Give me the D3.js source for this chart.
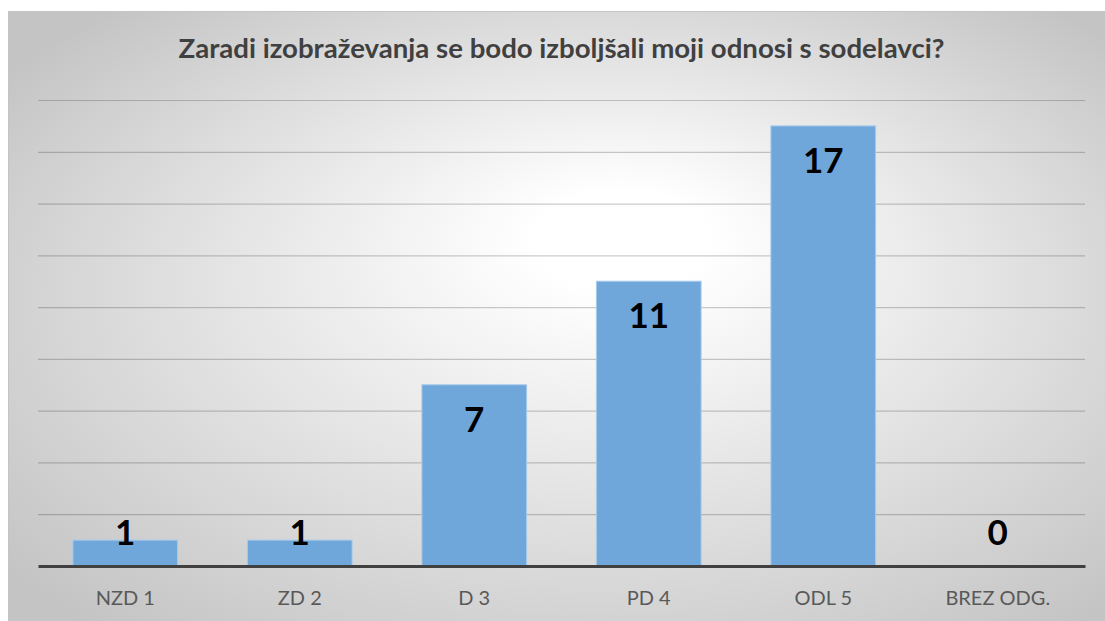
<!DOCTYPE html>
<html>
<head>
<meta charset="utf-8">
<script src="https://cdn.jsdelivr.net/npm/d3@7"></script>
<style>
  body { margin: 0; background: #fff; }
  svg { display: block; }
</style>
</head>
<body>
<svg id="chart" width="1105" height="621"></svg>
<script>
const categories = ["NZD 1", "ZD 2", "D 3", "PD 4", "ODL 5", "BREZ ODG."];
const values = [1, 1, 7, 11, 17, 0];
const gridTicks = [2, 4, 6, 8, 10, 12, 14, 16, 18];
const title = "Zaradi izobraževanja se bodo izboljšali moji odnosi s sodelavci?";

const svg = d3.select("#chart"),
  margin = { top: 100, right: 20, bottom: 55, left: 38 },
  width = +svg.attr("width") - margin.left - margin.right,
  height = +svg.attr("height") - margin.top - margin.bottom;

const font = "Lato, 'Open Sans', sans-serif";

// background gradient
const defs = svg.append("defs");
const grad = defs
  .append("radialGradient")
  .attr("id", "bg")
  .attr("cx", "0.52")
  .attr("cy", "0.5")
  .attr("r", "0.66")
  .attr("fx", "0.56")
  .attr("fy", "0.35");
grad.append("stop").attr("offset", "0").attr("stop-color", "#ffffff");
grad.append("stop").attr("offset", "0.12").attr("stop-color", "#ffffff");
grad.append("stop").attr("offset", "1").attr("stop-color", "#c4c4c4");

svg
  .append("rect")
  .attr("x", 8.5)
  .attr("y", 11.5)
  .attr("width", 1105)
  .attr("height", 621)
  .attr("fill", "url(#bg)")
  .attr("stroke", "#c4c4c4");

svg
  .append("text")
  .attr("x", margin.left + width / 2)
  .attr("y", 58)
  .attr("text-anchor", "middle")
  .attr("font-family", font)
  .attr("font-weight", "bold")
  .attr("font-size", 26)
  .attr("fill", "#404040")
  .attr("textLength", 766)
  .attr("lengthAdjust", "spacingAndGlyphs")
  .text(title);

const chart = svg
  .append("g")
  .attr("transform", `translate(${margin.left},${margin.top})`);

const x = d3
  .scaleBand()
  .domain(categories)
  .range([0, width])
  .paddingInner(0.4)
  .paddingOuter(0.2);

const y = d3.scaleLinear().domain([0, 18]).range([height, 0]);

// gridlines
chart
  .append("g")
  .attr("class", "grid")
  .call(d3.axisLeft(y).tickValues(gridTicks).tickSize(-width).tickFormat(""))
  .call((g) => g.select(".domain").remove())
  .selectAll("line")
  .attr("stroke", "#000")
  .attr("stroke-opacity", 0.2)
  .attr("stroke-width", 1.2);

// bars
chart
  .selectAll("rect.bar")
  .data(values)
  .join("rect")
  .attr("class", "bar")
  .attr("x", (d, i) => x(categories[i]))
  .attr("y", (d) => y(d))
  .attr("width", x.bandwidth())
  .attr("height", (d) => y(0) - y(d))
  .attr("fill", "#6fa7da")
  .attr("stroke", (d) => (d > 0 ? "#a9cbec" : "none"))
  .attr("stroke-width", 1);

// baseline / x axis
const xAxis = chart
  .append("g")
  .attr("transform", `translate(0,${height})`)
  .call(d3.axisBottom(x).tickSize(0).tickPadding(25));

xAxis.select(".domain").attr("stroke", "#404040").attr("stroke-width", 3);
xAxis
  .selectAll("text")
  .attr("font-family", font)
  .attr("font-size", 20)
  .attr("fill", "#595959");

// value labels
chart
  .selectAll("text.value")
  .data(values)
  .join("text")
  .attr("class", "value")
  .attr("x", (d, i) => x(categories[i]) + x.bandwidth() / 2)
  .attr("y", (d) => Math.min(y(d) + 47, y(0) - 21))
  .attr("text-anchor", "middle")
  .attr("font-family", font)
  .attr("font-weight", "bold")
  .attr("font-size", 35)
  .attr("fill", "#000")
  .text((d) => d);
</script>
</body>
</html>
